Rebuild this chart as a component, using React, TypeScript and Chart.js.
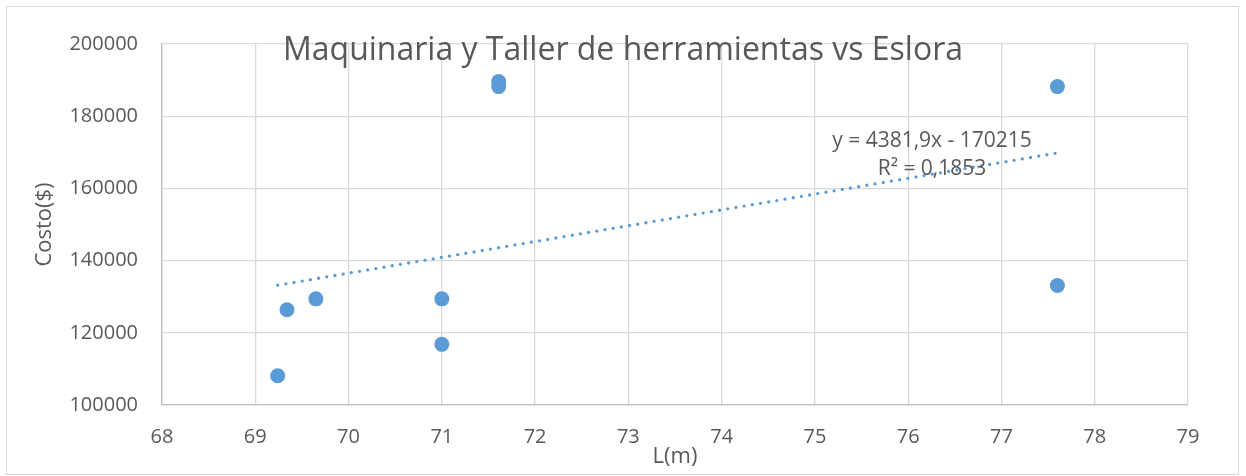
import React, { useEffect, useRef } from "react";
import { Chart, registerables } from "chart.js";

Chart.register(...registerables);

// ---- data ----
const lengths = [69.24, 69.34, 69.65, 71.0, 71.0, 71.61, 71.61, 77.6, 77.6];
const costs = [108100, 126400, 129400, 129400, 116800, 189600, 188200, 188200, 133100];
const trendSlope = 4381.9;
const trendIntercept = -170215;
const trendLabel = ["y = 4381,9x - 170215", "R² = 0,1853"];
const titleText = "Maquinaria y Taller de herramientas vs Eslora";
const xTitle = "L(m)";
const yTitle = "Costo($)";
const xMin = 68;
const xMax = 79;
const yMin = 100000;
const yMax = 200000;
const yStep = 20000;

const TEXT = "#595959";
const BLUE = "#5B9BD5";
const GRID = "#D9D9D9";
const FONT = "'Open Sans', sans-serif";

const overlayPlugin = {
  id: "overlay",
  afterDraw(chart: any) {
    const ctx = chart.ctx;
    ctx.save();
    // outer border
    ctx.strokeStyle = GRID;
    ctx.lineWidth = 1;
    ctx.strokeRect(6.5, 6.5, 1232, 468);
    // title
    ctx.fillStyle = TEXT;
    ctx.font = `32px ${FONT}`;
    ctx.textAlign = "center";
    ctx.textBaseline = "middle";
    ctx.fillText(titleText, 623, 51);
    // trendline label
    ctx.font = `21px ${FONT}`;
    ctx.fillText(trendLabel[0], 932, 141);
    ctx.fillText(trendLabel[1], 932, 169);
    ctx.restore();
  },
};

export default function App() {
  const ref = useRef<HTMLCanvasElement>(null);

  useEffect(() => {
    document.body.style.margin = "0";
    const xs = lengths;
    const tx0 = Math.min(...xs);
    const tx1 = Math.max(...xs);
    const trend = [
      { x: tx0, y: trendSlope * tx0 + trendIntercept },
      { x: tx1, y: trendSlope * tx1 + trendIntercept },
    ];
    const pts = lengths.map((x, i) => ({ x, y: costs[i] }));
    const chart = new Chart(ref.current!, {
      type: "scatter",
      data: {
        datasets: [
          {
            label: "trend",
            type: "line",
            data: trend,
            showLine: true,
            pointRadius: 0,
            borderColor: BLUE,
            borderWidth: 3.3,
            borderDash: [0, 8.3],
            borderCapStyle: "round",
            fill: false,
          } as any,
          {
            label: "data",
            data: pts,
            pointRadius: 7.5,
            pointHoverRadius: 7.5,
            backgroundColor: BLUE,
            borderColor: BLUE,
            borderWidth: 0,
          },
        ],
      },
      options: {
        responsive: false,
        animation: false,
        events: [],
        layout: { padding: { left: 0, top: 44, right: 58, bottom: 0 } },
        plugins: {
          legend: { display: false },
          tooltip: { enabled: false },
          title: { display: false },
        },
        scales: {
          x: {
            type: "linear",
            min: xMin,
            max: xMax,
            ticks: {
              stepSize: 1,
              color: TEXT,
              font: { family: FONT, size: 20 },
              padding: 20,
              callback: (v: any) => String(v),
            },
            grid: { color: GRID, drawTicks: false, lineWidth: 1.3 },
            border: { color: "#BFBFBF", width: 1.3 },
            title: {
              display: true,
              text: xTitle,
              color: TEXT,
              font: { family: FONT, size: 22 },
              padding: { top: 0, bottom: 6 },
            },
            afterFit(scale: any) {
              scale.height = 71;
            },
          },
          y: {
            type: "linear",
            min: yMin,
            max: yMax,
            ticks: {
              stepSize: yStep,
              color: TEXT,
              font: { family: FONT, size: 20 },
              padding: 24,
              callback: (v: any) => String(v),
            },
            grid: { color: GRID, drawTicks: false, lineWidth: 1.3 },
            border: { color: "#BFBFBF", width: 1.3 },
            title: {
              display: true,
              text: yTitle,
              color: TEXT,
              font: { family: FONT, size: 22 },
              padding: { top: 32, bottom: 0 },
            },
            afterFit(scale: any) {
              scale.width = 162;
            },
          },
        },
      },
      plugins: [overlayPlugin],
    });
    return () => chart.destroy();
  }, []);

  return (
    <div style={{ width: 1246, height: 476 }}>
      <canvas ref={ref} width={1246} height={476} />
    </div>
  );
}
